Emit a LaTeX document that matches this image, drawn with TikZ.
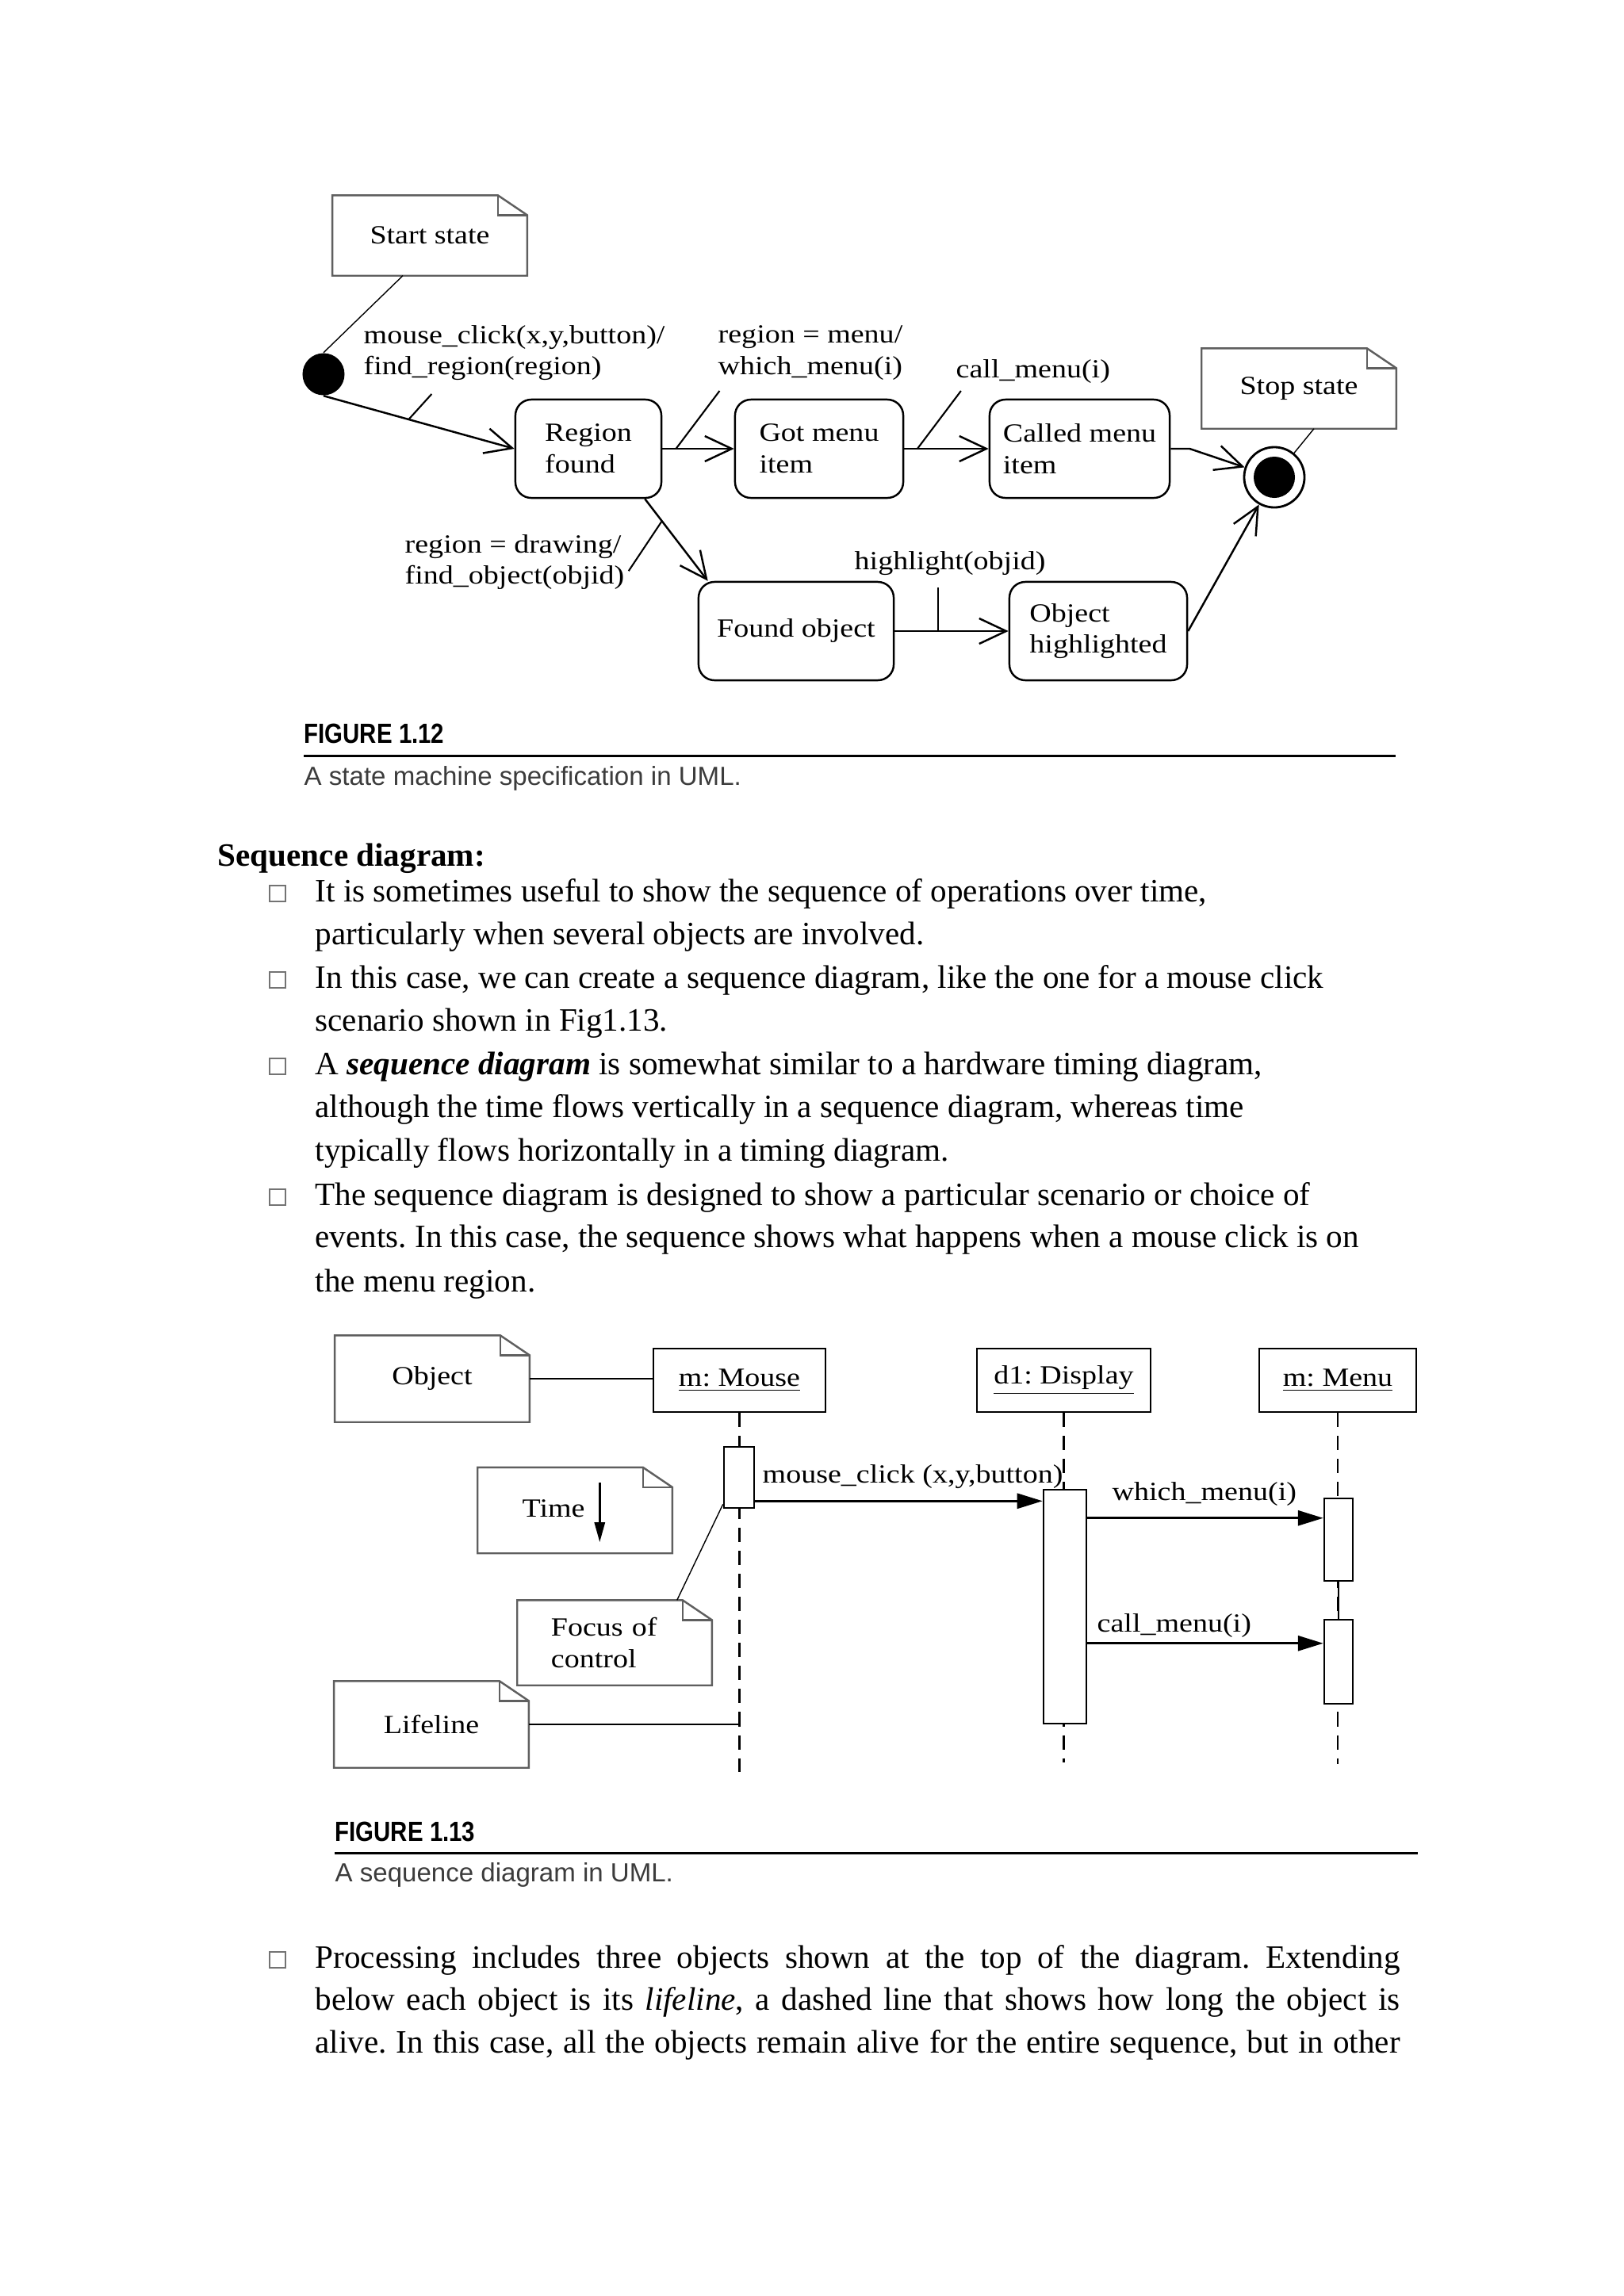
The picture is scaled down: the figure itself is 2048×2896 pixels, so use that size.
\documentclass[tikz,border=0pt]{standalone}
\usepackage{fontspec}
\setmainfont{Liberation Serif}
\newfontfamily\diagfont[FakeStretch=1.15]{Liberation Serif}
\newfontfamily\capfont{Liberation Sans}
\newfontfamily\figfont[FakeStretch=0.84]{Liberation Sans}
\usepackage{tikz}
\usetikzlibrary{positioning,arrows.meta,calc}
\frenchspacing
\definecolor{notegray}{RGB}{95,95,95}
\definecolor{captiongray}{RGB}{60,60,60}
\newcommand{\diagtext}{\diagfont\fontsize{9.4pt}{11.3pt}\selectfont}
\newcommand{\bodytext}{\fontsize{11.7pt}{14pt}\selectfont}
% folded-corner outline for a UML note node
\newcommand{\drawnote}[1]{%
  \draw[note line] (#1.north west) -- ($(#1.north east)+(-37,0)$) -- ($(#1.north east)+(0,25)$)
    -- (#1.south east) -- (#1.south west) -- cycle;
  \draw[note line] ($(#1.north east)+(-37,0)$) |- ($(#1.north east)+(0,25)$);}
\tikzset{
  sm state/.style={
    rectangle,
    rounded corners=0.2cm,
    draw,
    line width=0.7pt,
    minimum height=1.24cm,
    inner sep=0pt,
    align=left,
    font=\diagtext
  },
  sm init/.style={
    circle,
    fill=black,
    minimum size=0.53cm,
    inner sep=0pt
  },
  sm final/.style={
    circle,
    draw,
    line width=0.8pt,
    minimum size=0.76cm,
    inner sep=0pt
  },
  sm label/.style={
    font=\diagtext,
    align=left,
    inner sep=0pt
  },
  uml note/.style={
    rectangle,
    minimum width=2.44cm,
    inner sep=0pt,
    font=\diagtext
  },
  note line/.style={draw=notegray, line width=0.7pt},
  trans/.style={
    -{Straight Barb[length=0.34cm,width=0.32cm]},
    line width=0.7pt
  },
  tick/.style={line width=0.6pt},
  seq object/.style={
    rectangle,
    draw,
    line width=0.7pt,
    minimum height=0.8cm,
    inner sep=0pt,
    font=\diagtext
  },
  seq act/.style={
    rectangle,
    draw,
    fill=white,
    line width=0.7pt,
    minimum width=0.36cm,
    inner sep=0pt
  },
  lifeline/.style={line width=0.7pt, dash pattern=on 0.18cm off 0.11cm},
  msg/.style={
    -{Triangle[length=0.32cm,width=0.19cm]},
    line width=0.8pt
  },
  body line/.style={anchor=base west, inner sep=0pt, font=\bodytext},
  bullet box/.style={rectangle, draw=black!55, line width=0.4pt, minimum size=0.2cm, inner sep=0pt},
  fig head/.style={anchor=base west, inner sep=0pt, font=\figfont\bfseries\fontsize{9.96pt}{12pt}\selectfont},
  fig caption/.style={anchor=base west, inner sep=0pt, text=captiongray, font=\capfont\fontsize{9.4pt}{11pt}\selectfont}
}

\begin{document}
\begin{tikzpicture}[x=0.01cm, y=-0.01cm]
  \useasboundingbox[fill=white] (0,0) rectangle (2048,2896);

  % Figure 1.12: state machine
  \node[uml note, minimum height=1cm] (start) at (542,297) {Start state};
  \drawnote{start}
  \node[uml note, minimum height=1cm] (stop) at (1638,490) {Stop state};
  \drawnote{stop}

  \node[sm init] (dot) at (408,472) {};
  \node[sm final] (fin) at (1607,602) {};
  \node[circle, fill=black, minimum size=0.52cm, inner sep=0pt] (finin) at (fin) {};

  \node[sm state, minimum width=1.84cm] (rf) at (742,566) {Region\\found};
  \node[sm state, minimum width=2.12cm] (gm) at (1033,566) {Got menu\\item};
  \node[sm state, minimum width=2.27cm] (cmi) at (1361.5,566) {Called menu\\item};
  \node[sm state, minimum width=2.46cm] (fo) at (1004,796) {Found object};
  \node[sm state, minimum width=2.24cm] (oh) at (1385,796) {Object\\highlighted};

  \draw ($(start.south)+(-34,0)$) -- (dot.north);
  \draw ($(stop.south)+(19,0)$) -- (fin);

  \draw[trans] (dot.south) -- coordinate[pos=0.446] (t1) (rf.west);
  \draw[tick] (t1) -- ++(29,-32);
  \node[sm label, anchor=west] (mc) at (458,445) {mouse\_click(x,y,button)/\\find\_region(region)};

  \draw[trans] (rf) -- coordinate[pos=0.19] (t2) (gm);
  \draw[tick] (t2) -- ++(55,-73);
  \node[sm label, anchor=west] (rm) at (905,445) {region = menu/\\which\_menu(i)};

  \draw[trans] (gm) -- coordinate[pos=0.156] (t3) (cmi);
  \draw[tick] (t3) -- ++(55,-73);
  \node[sm label, anchor=base west] (cl) at (1205,476) {call\_menu(i)};

  \draw[trans] (cmi.east) -- ++(24,0) -- (fin);

  \draw[trans] ($(rf.south east)+(-22,0)$) -- coordinate[pos=0.27] (t4) ($(fo.north west)+(13,0)$);
  \draw[tick] (t4) -- ++(-42,63);
  \node[sm label, anchor=west] (rd) at (510,709) {region = drawing/\\find\_object(objid)};

  \draw[trans] (fo) -- coordinate[pos=0.38] (t5) (oh);
  \draw[tick] (t5) -- ++(0,-55);
  \node[sm label, anchor=base west] (hl) at (1077,718) {highlight(objid)};

  \draw[trans] (oh.east) -- (fin);

  \node[fig head] (fh1) at (383,937) {FIGURE 1.12};
  \draw[line width=0.85pt] (383,953) -- (1760,953);
  \node[fig caption] (fc1) at (383,990) {A state machine specification in UML.};

  % body text
  \node[body line, font=\bodytext\bfseries] (head) at (274,1092) {Sequence diagram:};
  \foreach \by in {1137,1246,1355,1520,2482}
    \node[bullet box] at (350,\by-10) {};
  \node[body line] (l1) at (397,1137) {It is sometimes useful to show the sequence of operations over time,};
  \node[body line] (l2) at (397,1191) {particularly when several objects are involved.};
  \node[body line] (l3) at (397,1246) {In this case, we can create a sequence diagram, like the one for a mouse click};
  \node[body line] (l4) at (397,1300) {scenario shown in Fig1.13.};
  \node[body line] (l5) at (397,1355) {A \textbf{\textit{sequence diagram}} is somewhat similar to a hardware timing diagram,};
  \node[body line] (l6) at (397,1409) {although the time flows vertically in a sequence diagram, whereas time};
  \node[body line] (l7) at (397,1464) {typically flows horizontally in a timing diagram.};
  \node[body line] (l8) at (397,1520) {The sequence diagram is designed to show a particular scenario or choice of};
  \node[body line] (l9) at (397,1573) {events. In this case, the sequence shows what happens when a mouse click is on};
  \node[body line] (l10) at (397,1629) {the menu region.};

  % Figure 1.13: sequence diagram
  \node[uml note, minimum height=1.08cm] (objn) at (545,1739) {Object};
  \drawnote{objn}
  \node[seq object, minimum width=2.17cm] (mouse) at (932.5,1741) {\underline{m: Mouse}};
  \node[seq object, minimum width=2.19cm] (disp) at (1341.5,1741) {\underline{d1: Display}};
  \node[seq object, minimum width=1.98cm] (menu) at (1687,1741) {\underline{m: Menu}};
  \draw (objn.east) -- (objn.east -| mouse.west);

  \coordinate (mouseend) at (933,2235);
  \coordinate (dispend) at (1344,2223);
  \coordinate (menuend) at (1688,2225);
  \draw[lifeline] (mouse.south) -- (mouse.south |- mouseend);
  \draw[lifeline] (disp.south) -- (disp.south |- dispend);
  \draw[lifeline] (menu.south) -- (menu.south |- menuend);

  \node[seq act, minimum width=0.38cm, minimum height=0.77cm] (mact) at (932,1863.5) {};
  \node[seq act, minimum width=0.54cm, minimum height=2.95cm] (dact) at (1343,2026.5) {};
  \node[seq act, minimum height=1.04cm] (ma1) at (1688,1942) {};
  \node[seq act, minimum height=1.06cm] (ma2) at (1688,2096) {};
  \draw[line width=0.7pt] (ma1.south) -- (ma2.north);

  \coordinate (mc0) at ($(mact.south east)+(0,-10)$);
  \draw[msg] (mc0) -- (mc0 -| dact.west);
  \node[sm label, anchor=base west] (mcl) at (961,1870) {mouse\_click (x,y,button)};
  \coordinate (wm0) at ($(ma1.north west)+(0,26)$);
  \draw[msg] (wm0 -| dact.east) -- (wm0);
  \node[sm label, anchor=base west] (wml) at (1402,1892) {which\_menu(i)};
  \coordinate (cm0) at ($(ma2.north west)+(0,31)$);
  \draw[msg] (cm0 -| dact.east) -- (cm0);
  \node[sm label, anchor=base west] (cml) at (1383,2058) {call\_menu(i)};

  \node[uml note, minimum height=1.07cm] (timen) at (725,1905) {};
  \drawnote{timen}
  \node[sm label, anchor=base west] (timel) at (658,1913) {Time};
  \draw[-{Triangle[length=0.25cm,width=0.13cm]}, line width=0.8pt] ($(timel.east)+(18,-32)$) -- ++(0,75);

  \node[uml note, minimum height=1.06cm, text width=1.6cm, align=left] (focn) at (775,2072) {Focus of\\control};
  \drawnote{focn}
  \draw ($(focn.north east)+(-44,0)$) -- ($(mact.south west)+(0,-6)$);

  \node[uml note, minimum height=1.08cm] (lifen) at (544,2175) {Lifeline};
  \drawnote{lifen}
  \draw (lifen.east) -- (lifen.east -| mouse.south);

  \node[fig head] (fh2) at (422,2322) {FIGURE 1.13};
  \draw[line width=0.85pt] (422,2337) -- (1788,2337);
  \node[fig caption] (fc2) at (422,2373) {A sequence diagram in UML.};

  % closing paragraph, justified
  \node[body line] (p1) at (397,2482) {\makebox[13.67cm][s]{Processing includes three objects shown at the top of the diagram. Extending}};
  \node[body line] (p2) at (397,2535) {\makebox[13.67cm][s]{below each object is its \textit{lifeline}, a dashed line that shows how long the object is}};
  \node[body line] (p3) at (397,2589) {\makebox[13.67cm][s]{alive. In this case, all the objects remain alive for the entire sequence, but in other}};
\end{tikzpicture}
\end{document}
